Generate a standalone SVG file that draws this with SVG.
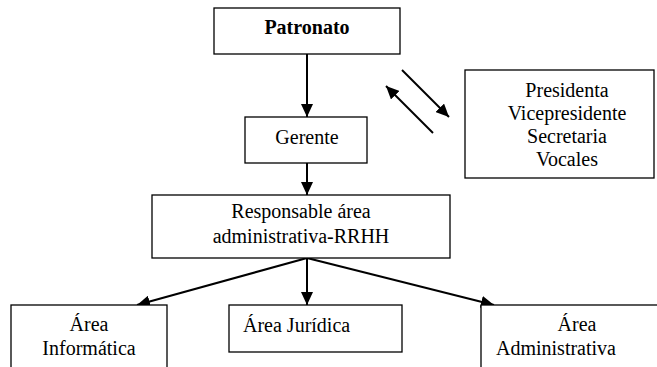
<svg xmlns="http://www.w3.org/2000/svg" width="657" height="367" viewBox="0 0 657 367">
<style>
.box{fill:#fff;stroke:#000;stroke-width:1.3}
.t{font-size:20px;fill:#000}
.c{text-anchor:middle}
.b{font-weight:bold}
.ln{stroke:#000;stroke-width:2;fill:none;marker-end:url(#ah)}
</style>
<defs>
<marker id="ah" markerUnits="userSpaceOnUse" markerWidth="14" markerHeight="12" viewBox="0 0 14 12" refX="13" refY="6" orient="auto">
<path d="M0,0 L13,6 L0,12 Z" fill="#000"/>
</marker>
</defs>
<rect width="657" height="367" fill="#fff"/>
<g id="connectors">
<line class="ln" x1="307" y1="54" x2="307" y2="117"/>
<line class="ln" x1="307" y1="163" x2="307" y2="195"/>
<line class="ln" x1="402" y1="70" x2="449" y2="117"/>
<line class="ln" x1="433" y1="133" x2="386" y2="86"/>
<line class="ln" x1="307" y1="258" x2="137" y2="305"/>
<line class="ln" x1="307" y1="258" x2="307" y2="305"/>
<line class="ln" x1="307" y1="258" x2="494" y2="305"/>
</g>
<g font-family="Liberation Serif, Times New Roman, serif">
<g id="patronato">
<rect class="box" x="214" y="8" width="186" height="46"/>
<text class="t c b" x="307" y="34">Patronato</text>
</g>
<g id="junta">
<rect class="box" x="465" y="70" width="189" height="108"/>
<text class="t c" x="567" y="97">Presidenta</text>
<text class="t c" x="567" y="120">Vicepresidente</text>
<text class="t c" x="567" y="143">Secretaria</text>
<text class="t c" x="567" y="166">Vocales</text>
</g>
<g id="gerente">
<rect class="box" x="245" y="117" width="122" height="46"/>
<text class="t c" x="307" y="144">Gerente</text>
</g>
<g id="responsable">
<rect class="box" x="152" y="195" width="298" height="63"/>
<text class="t c" x="301" y="218">Responsable área</text>
<text class="t c" x="301" y="243">administrativa-RRHH</text>
</g>
<g id="informatica">
<rect class="box" x="11" y="305" width="156" height="70"/>
<text class="t c" x="89" y="331">Área</text>
<text class="t c" x="89" y="355">Informática</text>
</g>
<g id="juridica">
<rect class="box" x="229" y="305" width="173" height="47"/>
<text class="t" x="243" y="332">Área Jurídica</text>
</g>
<g id="administrativa">
<rect class="box" x="481" y="305" width="190" height="70"/>
<text class="t c" x="577" y="331">Área</text>
<text class="t c" x="556" y="355">Administrativa</text>
</g>
</g>
</svg>
